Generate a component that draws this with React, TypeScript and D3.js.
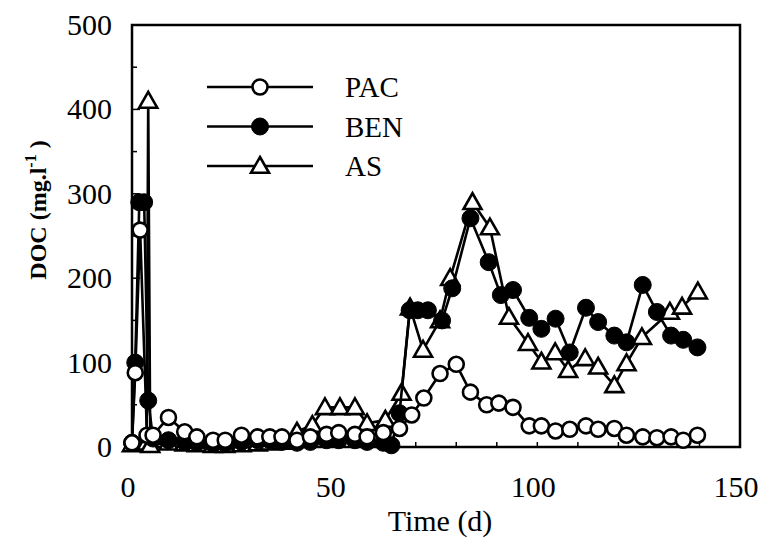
import React from "react";
import * as d3 from "d3";

const PAC_T = [0, 0.8, 2, 3.7, 5.2, 9, 13, 16, 20, 23, 27, 31, 34, 37, 40.7, 44, 48, 51, 55, 58, 62, 66, 69, 72, 76, 80, 83.5, 87.5, 90.5, 94, 98, 101, 104.5, 108, 112, 115, 119, 122, 126, 129.5, 133, 136, 139.5];
const PAC_V = [5, 88, 257, 14, 14, 35, 18, 12, 8, 8, 14, 12, 12, 12, 8, 12, 15, 17, 15, 12, 17, 22, 38, 58, 87, 98, 65, 50, 52, 47, 25, 25, 19, 21, 25, 21, 22, 14, 12, 11, 12, 8, 14];

const BEN_T = [0, 0.8, 1.8, 3, 4, 5.2, 9, 13, 16, 20, 23, 27, 31, 34, 37, 40.7, 44, 48, 51, 55, 58, 62, 64, 66, 68.5, 70.5, 73, 76.5, 79, 83.5, 88, 91, 94, 98, 101, 104.5, 108, 112, 115, 119, 122, 126, 129.5, 133, 136, 139.5];
const BEN_V = [5, 100, 290, 290, 55, 10, 8, 6, 5, 4, 4, 6, 8, 8, 6, 5, 6, 8, 8, 8, 6, 5, 2, 40, 162, 162, 162, 150, 188, 271, 219, 180, 186, 153, 140, 152, 112, 165, 148, 132, 124, 192, 160, 132, 127, 118];

const AS_T = [0, 3.6, 4, 4.5, 9, 13, 16, 20, 23, 27, 31, 34, 37, 40.7, 44.5, 47.6, 51.3, 55, 58, 62.5, 66.5, 68.6, 71.8, 76, 78.5, 84, 88.3, 93, 97.7, 101, 104.4, 107.6, 111.8, 115, 119, 122, 125.8, 132.7, 135.7, 139.6];
const AS_V = [3, 5, 410, 2, 5, 4, 3, 2, 2, 3, 4, 5, 6, 18, 26, 47, 47, 47, 28, 32, 64, 165, 115, 150, 200, 290, 260, 154, 123, 101, 112, 91, 105, 95, 73, 99, 130, 160, 166, 184];

const SERIES = ["PAC", "BEN", "AS"];
const X_TICKS = [0, 50, 100, 150];
const Y_TICKS = [0, 100, 200, 300, 400, 500];

const FONT = "'Liberation Serif', 'Times New Roman', serif";

function Marker({ kind, x, y }: { kind: string; x: number; y: number }) {
  if (kind === "PAC") return <circle cx={x} cy={y} r={7.5} fill="#fff" stroke="#000" strokeWidth={2.6} />;
  if (kind === "BEN") return <circle cx={x} cy={y} r={8.5} fill="#000" stroke="#000" strokeWidth={1} />;
  const s = 9;
  return (
    <path
      d={`M${x},${y - s} L${x + s},${y + s * 0.75} L${x - s},${y + s * 0.75} Z`}
      fill="#fff"
      stroke="#000"
      strokeWidth={2.6}
      strokeLinejoin="miter"
    />
  );
}

export default function App() {
  const W = 765, H = 558;
  const x = d3.scaleLinear().domain([0, 150]).range([132, 740]);
  const y = d3.scaleLinear().domain([0, 500]).range([447, 25]);
  const line = d3.line<[number, number]>().x(d => x(d[0])).y(d => y(d[1]));

  const data: Record<string, [number, number][]> = {
    PAC: PAC_T.map((t, i) => [t, PAC_V[i]]),
    BEN: BEN_T.map((t, i) => [t, BEN_V[i]]),
    AS: AS_T.map((t, i) => [t, AS_V[i]]),
  };
  const order = ["AS", "BEN", "PAC"];

  const xMinor = d3.range(0, 151, 10);
  const yMinor = d3.range(0, 501, 50);

  return (
    <svg width={W} height={H} style={{ position: "absolute", left: 0, top: 0, background: "#fff" }} fontFamily={FONT}>
      <rect x={0} y={0} width={W} height={H} fill="#fff" />
      <rect x={x(0)} y={y(500)} width={x(150) - x(0)} height={y(0) - y(500)} fill="none" stroke="#000" strokeWidth={2.5} />
      {xMinor.map(v => (
        <line key={"xt" + v} x1={x(v)} x2={x(v)} y1={y(0)} y2={y(0) - 5} stroke="#000" strokeWidth={1.5} />
      ))}
      {yMinor.map(v => (
        <line key={"yt" + v} x1={x(0)} x2={x(0) + (v % 100 === 0 ? 8 : 5)} y1={y(v)} y2={y(v)} stroke="#000" strokeWidth={1.5} />
      ))}
      {X_TICKS.map(v => (
        <text key={"xl" + v} x={x(v) - 4} y={497} fontSize={30} textAnchor="middle">{v}</text>
      ))}
      {Y_TICKS.map(v => (
        <text key={"yl" + v} x={112} y={y(v) + 10} fontSize={30} textAnchor="end">{v}</text>
      ))}
      <text x={440} y={531} fontSize={30} textAnchor="middle">Time (d)</text>
      <text transform={`translate(46,210) rotate(-90)`} fontSize={24} fontWeight="bold" textAnchor="middle">
        DOC (mg.l<tspan dy={-10} fontSize={16}>-1</tspan><tspan dy={10}> )</tspan>
      </text>

      {order.map(k => (
        <g key={k}>
          <path d={line(data[k]) || ""} fill="none" stroke="#000" strokeWidth={2.6} strokeLinejoin="round" />
          {data[k].map((d, i) => (
            <Marker key={i} kind={k} x={x(d[0])} y={y(d[1])} />
          ))}
        </g>
      ))}

      {SERIES.map((k, i) => {
        const ly = 87 + i * 39.5;
        return (
          <g key={"lg" + k}>
            <line x1={207} x2={313} y1={ly} y2={ly} stroke="#000" strokeWidth={2.6} />
            <Marker kind={k} x={260} y={ly} />
            <text x={345} y={ly + 10} fontSize={29}>{k}</text>
          </g>
        );
      })}
    </svg>
  );
}
